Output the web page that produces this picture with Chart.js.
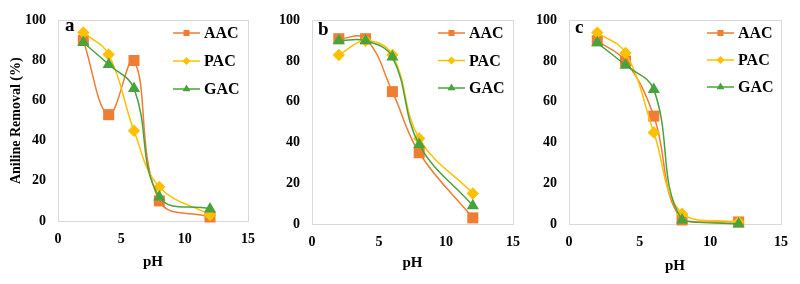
<!DOCTYPE html>
<html>
<head>
<meta charset="utf-8">
<script src="https://cdn.jsdelivr.net/npm/chart.js@4.4.1/dist/chart.umd.min.js"></script>
<style>
  html, body { margin: 0; padding: 0; background: #fff; }
  #wrap { position: relative; width: 800px; height: 284px; overflow: hidden; }
  canvas { position: absolute; top: 0; }
</style>
</head>
<body>
<div id="wrap">
  <canvas id="chartA" width="265" height="284" style="left:0"></canvas>
  <canvas id="chartB" width="265" height="284" style="left:265px"></canvas>
  <canvas id="chartC" width="270" height="284" style="left:530px"></canvas>
</div>
<script>
// data
const phValues = [2, 4, 6, 8, 12];
const seriesNames = ['AAC', 'PAC', 'GAC'];
const xTickStep = 5;
const yTickStep = 20;

// panel a
const aacA = [90, 53, 80, 10, 2];
const pacA = [94, 83, 45, 17, 3];
const gacA = [89, 78, 66, 12, 6];
// panel b
const aacB = [91, 91, 65, 35, 3];
const pacB = [83, 90, 83, 42, 15];
const gacB = [90, 90, 82, 39, 9];
// panel c
const aacC = [90, 80, 53, 2, 1];
const pacC = [94, 84, 45, 5, 1];
const gacC = [89, 78, 66, 2, 0];

const styles = {
  colors: ['#ef7d33', '#ffc000', '#47a33c'],
  markers: ['rect', 'rectRot', 'triangle'],
  radii: [7.8, 6.2, 7],
  legendRadii: [4.3, 4, 4.6],
  font: "'Liberation Serif', 'Times New Roman', serif"
};

Chart.defaults.font.family = styles.font;
Chart.defaults.font.weight = 'bold';
Chart.defaults.color = '#000';

// frame around the plot, legend inside it, panel letter
const framePlugin = {
  id: 'frame',
  beforeDatasetsDraw(chart) {
    const a = chart.chartArea, ctx = chart.ctx;
    ctx.save();
    ctx.strokeStyle = '#d9d9d9';
    ctx.lineWidth = 1;
    ctx.strokeRect(Math.round(a.left) + 0.5, Math.round(a.top) + 0.5,
      Math.round(a.right - a.left), Math.round(a.bottom - a.top));
    ctx.restore();
  },
  afterDatasetsDraw(chart, args, opts) {
    const ctx = chart.ctx;
    ctx.save();
    chart.data.datasets.forEach((ds, i) => {
      const y = opts.legendY + i * opts.legendStep;
      const x0 = opts.legendX;
      ctx.strokeStyle = ds.borderColor;
      ctx.lineWidth = 1.5;
      ctx.beginPath();
      ctx.moveTo(x0, y);
      ctx.lineTo(x0 + 27, y);
      ctx.stroke();
      ctx.fillStyle = ds.borderColor;
      Chart.helpers.drawPoint(ctx, {
        pointStyle: ds.pointStyle, radius: styles.legendRadii[i], rotation: 0, borderWidth: 0
      }, x0 + 13.5, y);
      ctx.fillStyle = '#000';
      ctx.font = 'bold 16px ' + styles.font;
      ctx.textBaseline = 'middle';
      ctx.textAlign = 'left';
      ctx.fillText(ds.label, x0 + 31, y + 1);
    });
    ctx.font = 'bold 19px ' + styles.font;
    ctx.textBaseline = 'alphabetic';
    ctx.fillText(opts.letter, opts.letterX, opts.letterY);
    ctx.restore();
  }
};

function buildPanel(id, values, layout) {
  const canvas = document.getElementById(id);
  const datasets = seriesNames.map((name, i) => ({
    label: name,
    data: phValues.map((x, k) => ({ x: x, y: values[i][k] })),
    borderColor: styles.colors[i],
    backgroundColor: styles.colors[i],
    borderWidth: 1.5,
    tension: 0.4,
    pointStyle: styles.markers[i],
    pointRadius: styles.radii[i],
    pointHoverRadius: styles.radii[i],
    pointBorderWidth: 0,
    clip: false,
    order: 3 - i
  }));

  new Chart(canvas, {
    type: 'line',
    data: { datasets: datasets },
    plugins: [framePlugin],
    options: {
      responsive: false,
      animation: false,
      events: [],
      layout: { padding: { left: 0, top: layout.top, right: canvas.width - layout.right, bottom: 0 } },
      scales: {
        x: {
          type: 'linear', min: 0, max: 15,
          ticks: { stepSize: xTickStep, padding: 10, font: { size: 14, weight: 'bold' } },
          grid: { display: false, drawTicks: false },
          border: { display: false },
          title: { display: true, text: 'pH', font: { size: 15, weight: 'bold' }, padding: { top: 0, bottom: layout.titleBottom } },
          afterFit: s => { s.height = canvas.height - layout.bottom; }
        },
        y: {
          min: 0, max: 100,
          ticks: { stepSize: yTickStep, padding: 12, font: { size: 14, weight: 'bold' } },
          grid: { display: false, drawTicks: false },
          border: { display: false },
          title: { display: layout.yTitle, text: 'Aniline Removal (%)', font: { size: 14, weight: 'bold' }, padding: { top: 8, bottom: 0 } },
          afterFit: s => { s.width = layout.left; }
        }
      },
      plugins: {
        legend: { display: false },
        tooltip: { enabled: false },
        frame: {
          legendX: layout.legendX, legendY: layout.legendY, legendStep: layout.legendStep,
          letter: layout.letter, letterX: layout.letterX, letterY: layout.letterY
        }
      }
    }
  });
}

buildPanel('chartA', [aacA, pacA, gacA], {
  left: 58, right: 256, top: 13, bottom: 221, titleBottom: 13, yTitle: true,
  legendX: 173, legendY: 33, legendStep: 28, letter: 'a', letterX: 65, letterY: 31
});
buildPanel('chartB', [aacB, pacB, gacB], {
  left: 47, right: 249, top: 14, bottom: 224, titleBottom: 12, yTitle: false,
  legendX: 173, legendY: 33, legendStep: 27.5, letter: 'b', letterX: 53, letterY: 35
});
buildPanel('chartC', [aacC, pacC, gacC], {
  left: 39, right: 251, top: 14, bottom: 224, titleBottom: 9, yTitle: false,
  legendX: 177, legendY: 33, legendStep: 27, letter: 'c', letterX: 45, letterY: 33
});
</script>
</body>
</html>
